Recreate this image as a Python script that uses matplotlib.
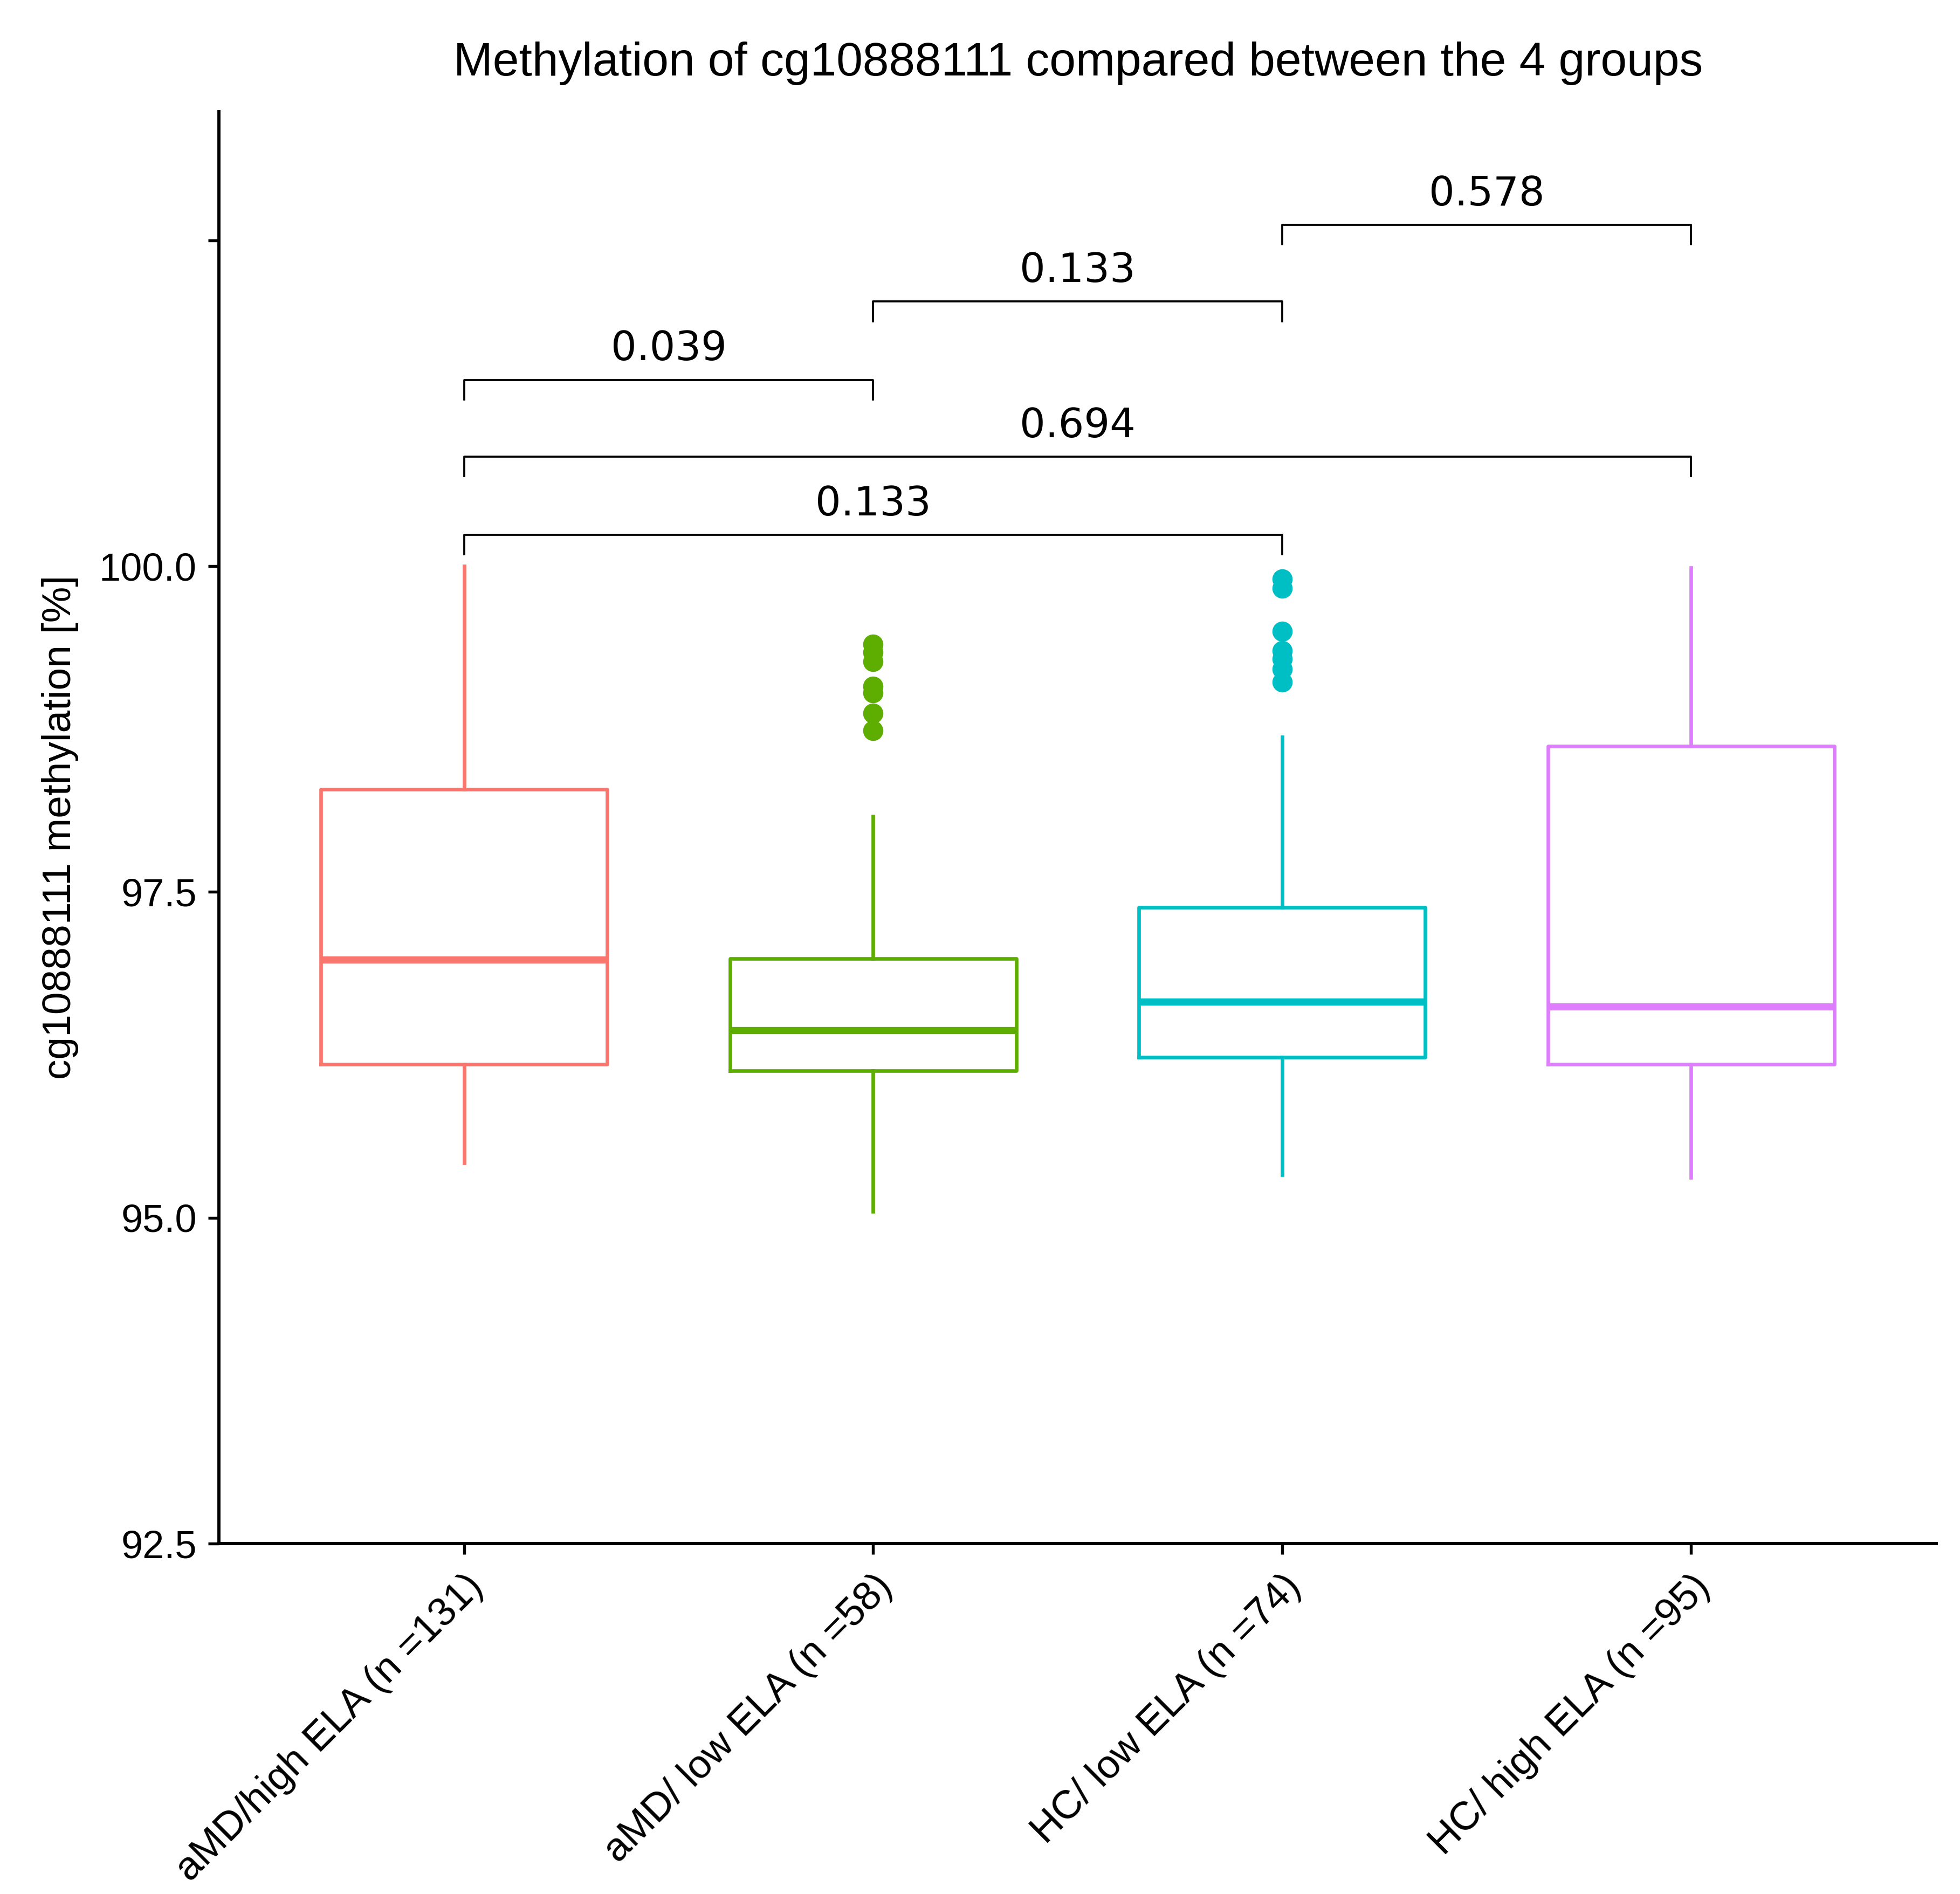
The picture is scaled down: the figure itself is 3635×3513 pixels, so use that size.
import matplotlib
matplotlib.use("Agg")
import matplotlib.pyplot as plt

plt.rcParams['font.family'] = ['Liberation Sans', 'DejaVu Sans']

# groups and box statistics
groups = ['aMD/high ELA (n =131)', 'aMD/ low ELA (n =58)',
          'HC/ low ELA (n =74)', 'HC/ high ELA (n =95)']
colors = ['#F8766D', '#5DAE00', '#00BFC4', '#DE7EFF']
q1 = [96.18, 96.13, 96.23, 96.18]
median = [96.98, 96.44, 96.66, 96.62]
q3 = [98.29, 96.99, 97.38, 98.62]
whislo = [95.42, 95.05, 95.33, 95.31]
whishi = [100.0, 98.08, 98.69, 99.99]
fliers = [
    [],
    [99.40, 99.34, 99.27, 99.08, 99.03, 98.87, 98.74],
    [99.90, 99.83, 99.50, 99.35, 99.29, 99.21, 99.11],
    [],
]

# pairwise comparisons
pairs = [(0, 1), (1, 2), (2, 3), (0, 3), (0, 2)]
bracket_y = [101.43, 102.03, 102.62, 100.84, 100.24]
p_labels = ['0.039', '0.133', '0.578', '0.694', '0.133']

yticks = [92.5, 95.0, 97.5, 100.0, 102.5]
ytick_labels = ['92.5', '95.0', '97.5', '100.0', '']

fig = plt.figure(figsize=(3635 / 300, 3513 / 300), dpi=300)
ax = fig.add_axes([0.1116, 0.185, 0.8764, 0.7562])

lw = 1.6
for i in range(len(groups)):
    stats = [dict(med=median[i], q1=q1[i], q3=q3[i], whislo=whislo[i],
                  whishi=whishi[i], fliers=fliers[i])]
    ax.bxp(stats, positions=[i], widths=0.7, showcaps=False,
           boxprops=dict(color=colors[i], linewidth=lw),
           whiskerprops=dict(color=colors[i], linewidth=lw),
           medianprops=dict(color=colors[i], linewidth=lw * 2, solid_capstyle='butt'),
           flierprops=dict(marker='o', markerfacecolor=colors[i],
                           markeredgecolor=colors[i], markersize=8))

# significance brackets
tick = 0.15
for (a, b), y, lab in zip(pairs, bracket_y, p_labels):
    ax.plot([a, a, b, b], [y - tick, y, y, y - tick], color='black', linewidth=0.9)
    ax.text((a + b) / 2, y + 0.15, lab, ha='center', va='baseline',
            fontsize=18, family='DejaVu Sans')

ax.set_xlim(-0.6, 3.6)
ax.set_ylim(92.5, 103.49)
ax.set_xticks(range(len(groups)))
ax.set_xticklabels(groups, rotation=45, ha='right', va='top',
                   rotation_mode='anchor', fontsize=17.8)
ax.set_yticks(yticks)
ax.set_yticklabels(ytick_labels, fontsize=17.3)
ax.tick_params(axis='both', length=4.8, width=1.3, color='black', labelcolor='black')
ax.tick_params(axis='y', pad=5)
ax.tick_params(axis='x', pad=6)

for side in ['top', 'right']:
    ax.spines[side].set_visible(False)
for side in ['left', 'bottom']:
    ax.spines[side].set_linewidth(1.4)

ax.set_ylabel('cg10888111 methylation [%]', fontsize=18, labelpad=9)

fig.text(0.55, 1 - 140 / 3513, 'Methylation of cg10888111 compared between the 4 groups',
         ha='center', va='baseline', fontsize=21)

fig.savefig('out.png', dpi=300)
